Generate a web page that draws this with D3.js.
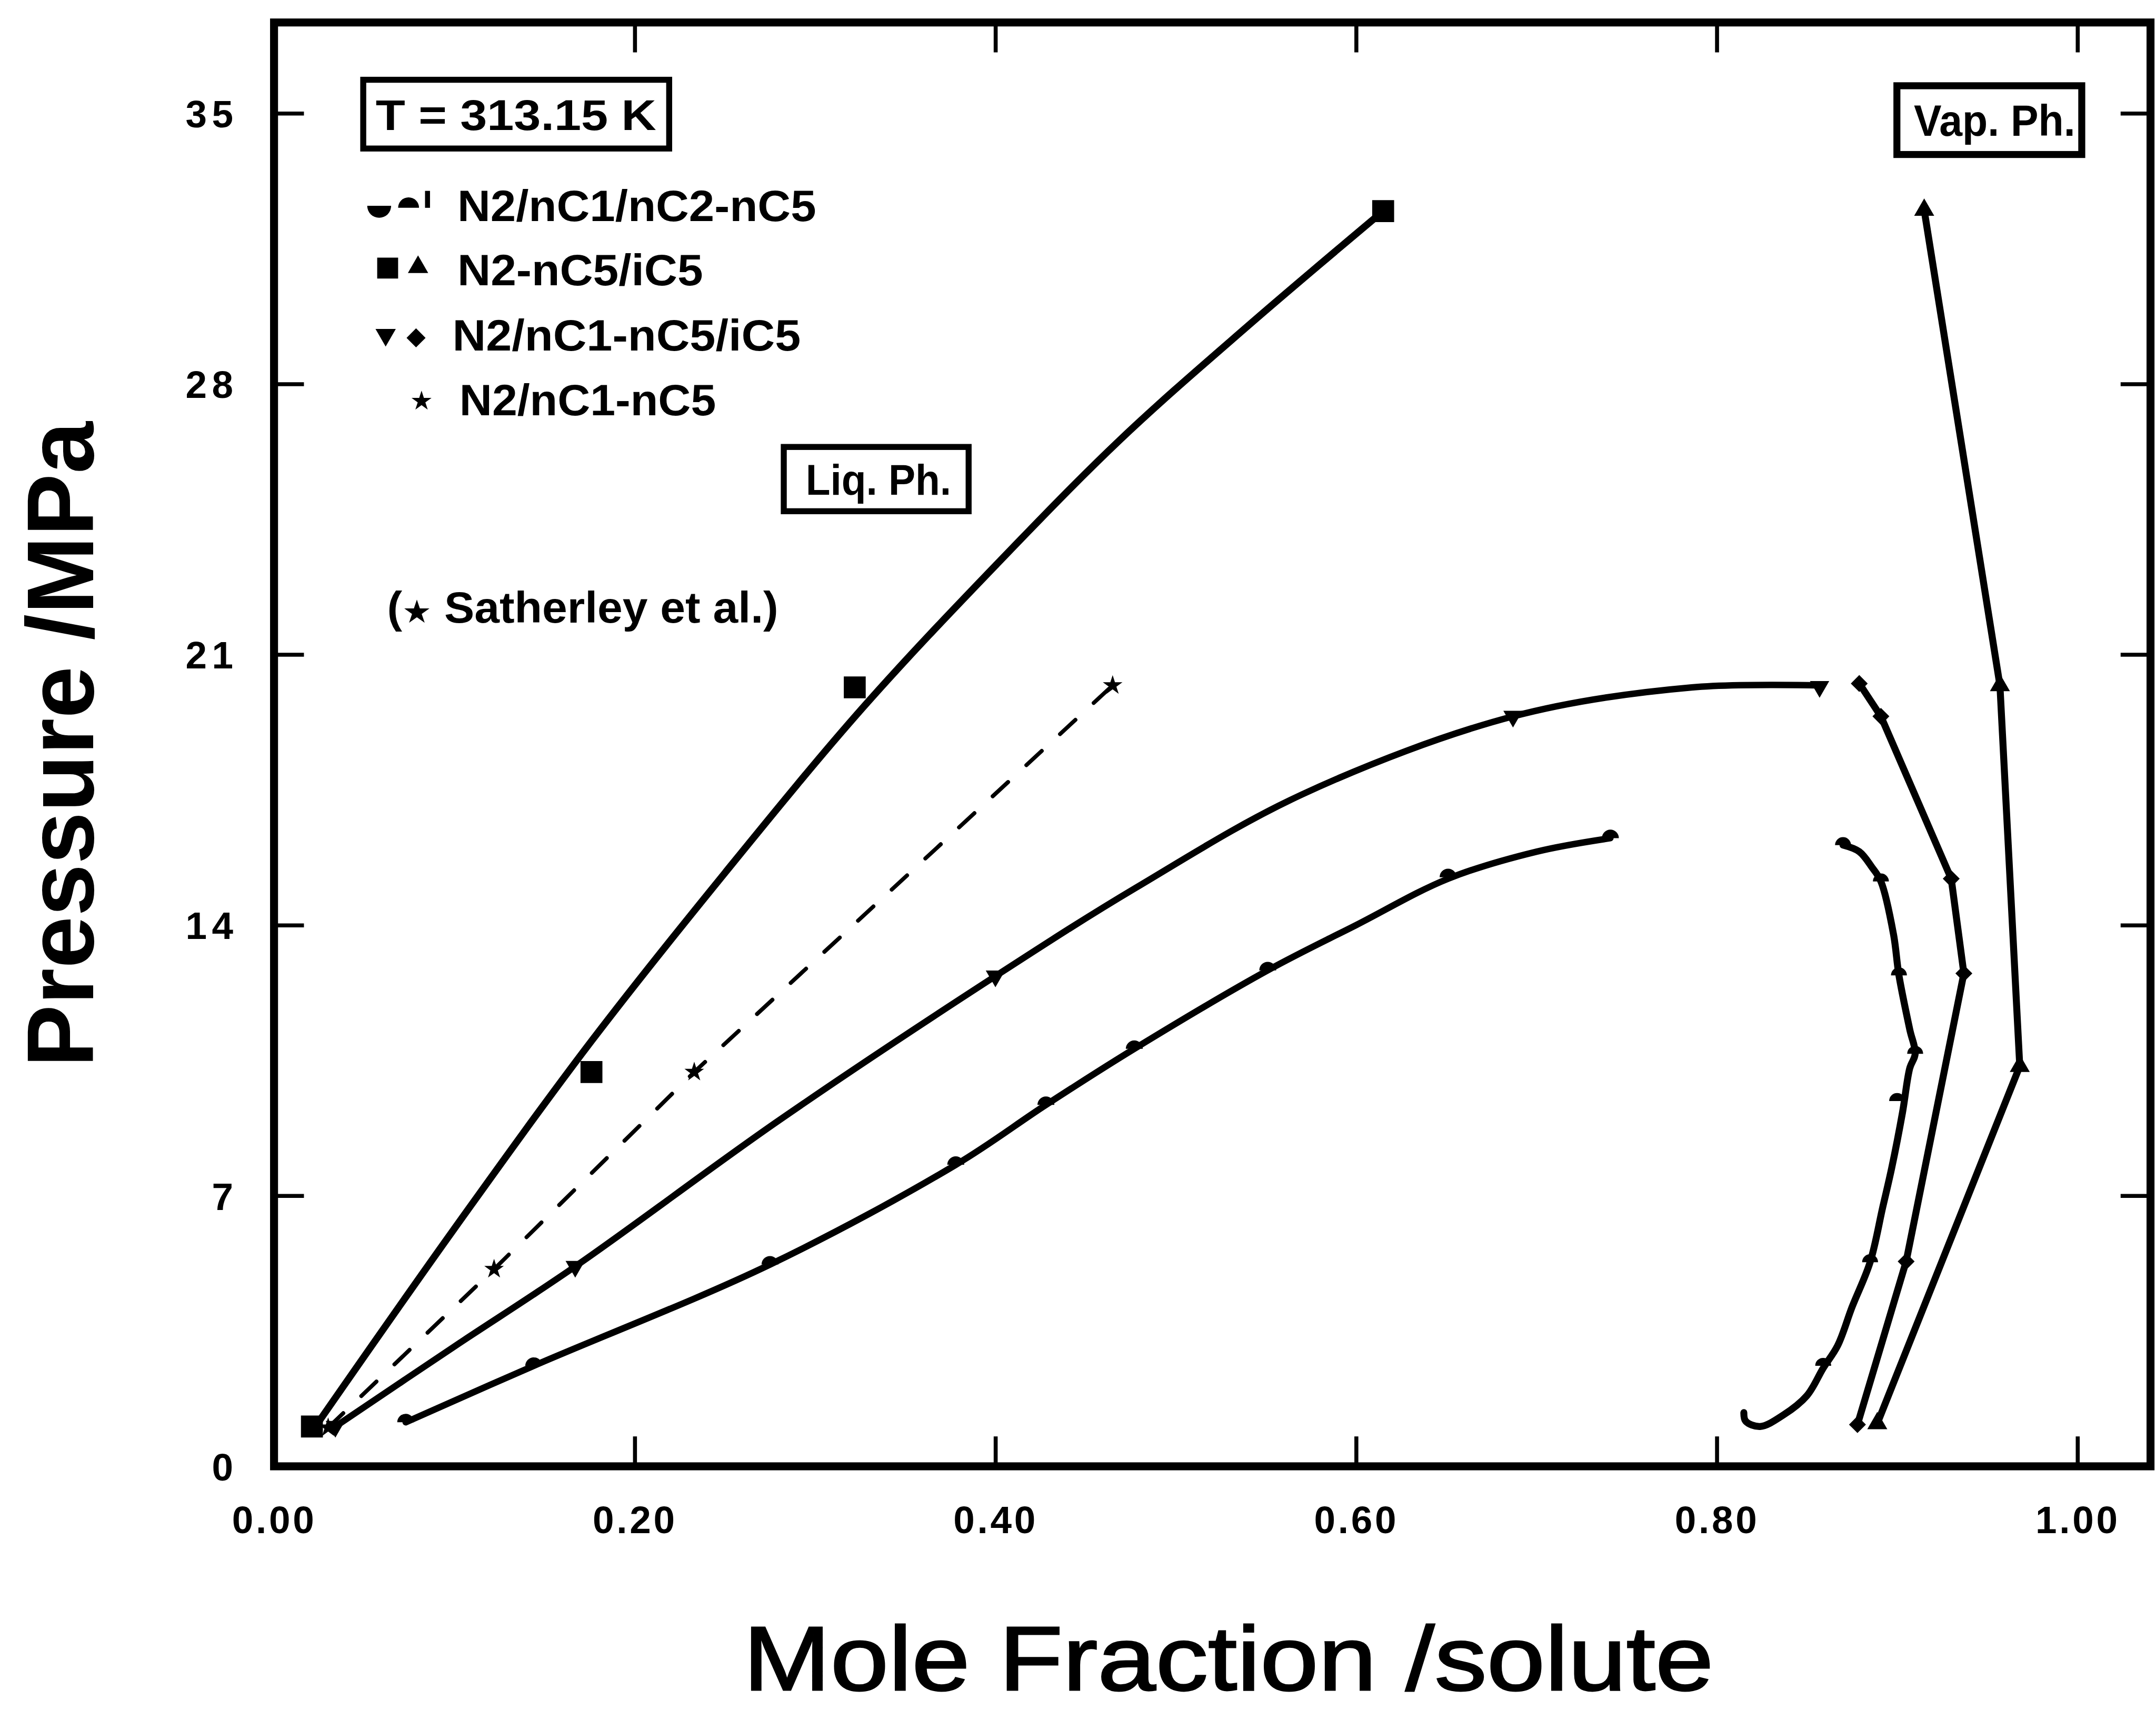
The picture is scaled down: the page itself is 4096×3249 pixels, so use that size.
<!DOCTYPE html>
<html>
<head>
<meta charset="utf-8">
<script src="https://cdn.jsdelivr.net/npm/d3@7"></script>
<style>
  html, body { margin: 0; padding: 0; background: #fff; }
  svg { display: block; }
  text { font-family: "Liberation Sans", Arial, sans-serif; fill: #000; }
</style>
</head>
<body>
<script>
// ---- data (x = mole fraction, y = pressure / MPa) ----
const xTicks = [0, 0.2, 0.4, 0.6, 0.8, 1.0];
const yTicks = [0, 7, 14, 21, 28, 35];

// N2-nC5/iC5 : liquid (squares) and vapour (triangles)
const nc5LiqPts = [[0.021, 1.03], [0.176, 10.2], [0.322, 20.15], [0.615, 32.47]];
const nc5LiqFit = [[0.024, 1.1], [0.1, 6.15], [0.176, 11.0], [0.25, 15.35], [0.326, 19.6],
  [0.40, 23.3], [0.469, 26.55], [0.54, 29.5], [0.615, 32.47]];
const nc5VapPts = [[0.889, 1.11], [0.968, 10.35], [0.957, 20.2], [0.915, 32.5]];

// N2/nC1-nC5/iC5 : liquid (down triangles) and vapour (diamonds)
const nc1LiqPts = [[0.034, 1.03], [0.167, 5.17], [0.400, 12.68], [0.687, 19.4], [0.857, 20.17]];
const nc1LiqFit = [[0.034, 1.03], [0.1, 3.1], [0.167, 5.17], [0.28, 8.95], [0.400, 12.68], [0.478, 14.97],
  [0.570, 17.38], [0.687, 19.4], [0.786, 20.15], [0.857, 20.2]];
const nc1VapPts = [[0.879, 20.25], [0.891, 19.4], [0.930, 15.2], [0.937, 12.75], [0.905, 5.3], [0.878, 1.08]];

// N2/nC1-nC5 (Satherley et al.) : stars, dashed
const sathPts = [[0.03, 1.0], [0.122, 5.1], [0.233, 10.2], [0.465, 20.2]];

// N2/nC1/nC2-nC5 : liquid and vapour (half discs)
const nc2LiqPts = [[0.073, 1.14], [0.144, 2.6], [0.275, 5.22], [0.378, 7.8], [0.428, 9.35], [0.477, 10.8],
  [0.551, 12.83], [0.651, 15.24], [0.741, 16.25]];
const nc2LiqFit = [[0.073, 1.14], [0.144, 2.6], [0.275, 5.22], [0.378, 7.8], [0.428, 9.35], [0.477, 10.8],
  [0.551, 12.83], [0.60, 14.0], [0.651, 15.2], [0.70, 15.9], [0.741, 16.25]];
const nc2VapPts = [[0.870, 16.07], [0.891, 15.13], [0.901, 12.7], [0.910, 10.67], [0.900, 9.45],
  [0.885, 5.28], [0.859, 2.6]];
const nc2VapFit = [[0.870, 16.07], [0.879, 15.9], [0.886, 15.5], [0.891, 15.13], [0.898, 13.76],
  [0.901, 12.7], [0.907, 11.3], [0.910, 10.67], [0.907, 10.3], [0.903, 9.16], [0.897, 7.72],
  [0.892, 6.7], [0.885, 5.28], [0.875, 4.12], [0.867, 3.12], [0.859, 2.54], [0.850, 1.83],
  [0.837, 1.33], [0.824, 1.03], [0.816, 1.17], [0.815, 1.39]];

const legendRows = [
  { label: 'N2/nC1/nC2-nC5', x: 918, y: 444, len: 720 },
  { label: 'N2-nC5/iC5', x: 918, y: 572, len: 493 },
  { label: 'N2/nC1-nC5/iC5', x: 908, y: 703, len: 699 },
  { label: 'N2/nC1-nC5', x: 922, y: 833, len: 515 }
];

// ---- chart ----
const W = 4327, H = 3432;
const margin = { top: 45, right: 11, bottom: 489, left: 550 };

const svg = d3.select('body').append('svg')
  .attr('width', 4096)
  .attr('height', 3249)
  .attr('viewBox', `0 0 ${W} ${H}`);

const x = d3.scaleLinear().domain([0, 1.0405]).range([margin.left, W - margin.right]);
const y = d3.scaleLinear().domain([0, 37.35]).range([H - margin.bottom, margin.top]);

// frame
svg.append('rect')
  .attr('x', x(0)).attr('y', y(37.35))
  .attr('width', x(1.0405) - x(0)).attr('height', y(0) - y(37.35))
  .attr('fill', 'none').attr('stroke', '#000').attr('stroke-width', 16);

function styleAxis(g, withText) {
  g.select('.domain').remove();
  g.selectAll('.tick line').attr('stroke-width', 8);
  if (!withText) g.selectAll('.tick text').remove();
  else g.selectAll('.tick text')
    .attr('font-size', 77).attr('font-weight', 'bold')
    .style('font-family', '"Liberation Sans", Arial, sans-serif');
}

svg.append('g')
  .attr('transform', `translate(0,${y(0)})`)
  .call(d3.axisBottom(x).tickValues(xTicks).tickSize(-60).tickPadding(79).tickFormat(d3.format('.2f')))
  .call(g => styleAxis(g, true))
  .call(g => g.selectAll('.tick text').attr('letter-spacing', 5));

svg.append('g')
  .attr('transform', `translate(0,${y(37.35)})`)
  .call(d3.axisTop(x).tickValues(xTicks.slice(1)).tickSize(-60))
  .call(g => styleAxis(g, false));

svg.append('g')
  .attr('transform', `translate(${x(0)},0)`)
  .call(d3.axisLeft(y).tickValues(yTicks).tickSize(-60).tickPadding(72).tickFormat(d3.format('d')))
  .call(g => styleAxis(g, true))
  .call(g => g.selectAll('.tick text').attr('letter-spacing', 10).attr('dy', '0.36em'));

svg.append('g')
  .attr('transform', `translate(${x(1.0405)},0)`)
  .call(d3.axisRight(y).tickValues(yTicks.slice(1)).tickSize(-60))
  .call(g => styleAxis(g, false));

// axis titles
svg.append('text')
  .attr('x', 1492).attr('y', 3392)
  .attr('font-size', 182)
  .attr('stroke', '#000').attr('stroke-width', 3)
  .attr('textLength', 1947).attr('lengthAdjust', 'spacingAndGlyphs')
  .text('Mole Fraction /solute');

svg.append('text')
  .attr('transform', 'translate(187,2142) rotate(-90)')
  .attr('font-size', 190).attr('font-weight', 'bold')
  .attr('textLength', 1296).attr('lengthAdjust', 'spacingAndGlyphs')
  .text('Pressure /MPa');

// curves
const smooth = d3.line().x(d => x(d[0])).y(d => y(d[1])).curve(d3.curveCatmullRom.alpha(0.5));
const straight = d3.line().x(d => x(d[0])).y(d => y(d[1]));

function drawLine(data, gen, width, dash) {
  svg.append('path')
    .datum(data)
    .attr('d', gen)
    .attr('fill', 'none')
    .attr('stroke', '#000')
    .attr('stroke-width', width)
    .attr('stroke-linejoin', 'round')
    .attr('stroke-linecap', 'round')
    .attr('stroke-dasharray', dash || null);
}

drawLine(nc5LiqFit, smooth, 14);
drawLine(nc5VapPts, straight, 14);
drawLine(nc1LiqFit, smooth, 13);
drawLine(nc1VapPts, straight, 14);
drawLine(sathPts, straight, 8, '42 50');
drawLine(nc2LiqFit, smooth, 13);
drawLine(nc2VapFit, smooth, 14);

// markers
const sym = (type, size) => d3.symbol().type(type).size(size)();
const halfDisc = (r, top) => top
  ? `M${-r},0A${r},${r} 0 0 1 ${r},0Z`
  : `M${-r},0A${r},${r} 0 0 0 ${r},0Z`;

function drawMarks(data, path, rot) {
  svg.append('g').selectAll('path')
    .data(data)
    .enter().append('path')
      .attr('d', path)
      .attr('transform', d => `translate(${x(d[0])},${y(d[1])})${rot ? ` rotate(${rot})` : ''}`)
      .attr('fill', '#000');
}

drawMarks(nc5LiqPts, sym(d3.symbolSquare, 44 * 44));
drawMarks(nc5VapPts, sym(d3.symbolTriangle, 700));
drawMarks(nc1LiqPts, sym(d3.symbolTriangle, 650), 180);
drawMarks(nc1VapPts, sym(d3.symbolSquare, 24 * 24), 45);
drawMarks(sathPts, sym(d3.symbolStar, 480));
drawMarks(nc2LiqPts, halfDisc(17, true));
drawMarks(nc2VapPts, halfDisc(16, true));

// legend / labels
const bold = sel => sel.attr('font-weight', 'bold');

svg.append('rect')
  .attr('x', 729).attr('y', 160).attr('width', 614).attr('height', 138)
  .attr('fill', 'none').attr('stroke', '#000').attr('stroke-width', 12);
svg.append('text').call(bold)
  .attr('x', 754).attr('y', 261).attr('font-size', 86)
  .attr('textLength', 563).attr('lengthAdjust', 'spacingAndGlyphs')
  .text('T = 313.15 K');

svg.append('g').selectAll('text')
  .data(legendRows)
  .enter().append('text')
    .attr('font-weight', 'bold')
    .attr('x', d => d.x).attr('y', d => d.y)
    .attr('font-size', 88)
    .attr('textLength', d => d.len).attr('lengthAdjust', 'spacingAndGlyphs')
    .text(d => d.label);

const legendMark = (path, tx, ty, rot) => svg.append('path')
  .attr('d', path)
  .attr('transform', `translate(${tx},${ty})${rot ? ` rotate(${rot})` : ''}`)
  .attr('fill', '#000');

legendMark(halfDisc(24, false), 761, 413);
legendMark(halfDisc(21, true), 820, 417);
svg.append('rect').attr('x', 853).attr('y', 383).attr('width', 10).attr('height', 34).attr('fill', '#000');
legendMark(sym(d3.symbolSquare, 42 * 42), 778, 538);
legendMark(sym(d3.symbolTriangle, 720), 839, 536);
legendMark(sym(d3.symbolTriangle, 720), 774, 672, 180);
legendMark(sym(d3.symbolSquare, 27 * 27), 835, 678, 45);
legendMark(sym(d3.symbolStar, 500), 846, 805);

// Satherley note (one text, star glyph from DejaVu)
const note = svg.append('text').call(bold)
  .attr('x', 777).attr('y', 1250).attr('font-size', 88)
  .attr('textLength', 785).attr('lengthAdjust', 'spacingAndGlyphs');
note.append('tspan').text('(');
note.append('tspan').style('font-family', '"DejaVu Sans", sans-serif').attr('font-size', 64).text('\u2605');
note.append('tspan').text(' Satherley et al.)');

// phase labels
svg.append('rect')
  .attr('x', 1573).attr('y', 897).attr('width', 371).attr('height', 129)
  .attr('fill', 'none').attr('stroke', '#000').attr('stroke-width', 12);
svg.append('text').call(bold)
  .attr('x', 1617).attr('y', 993).attr('font-size', 86)
  .attr('textLength', 292).attr('lengthAdjust', 'spacingAndGlyphs')
  .text('Liq. Ph.');

svg.append('rect')
  .attr('x', 3807).attr('y', 172).attr('width', 371).attr('height', 138)
  .attr('fill', 'none').attr('stroke', '#000').attr('stroke-width', 14);
svg.append('text').call(bold)
  .attr('x', 3841).attr('y', 272).attr('font-size', 88)
  .attr('textLength', 324).attr('lengthAdjust', 'spacingAndGlyphs')
  .text('Vap. Ph.');
</script>
</body>
</html>
